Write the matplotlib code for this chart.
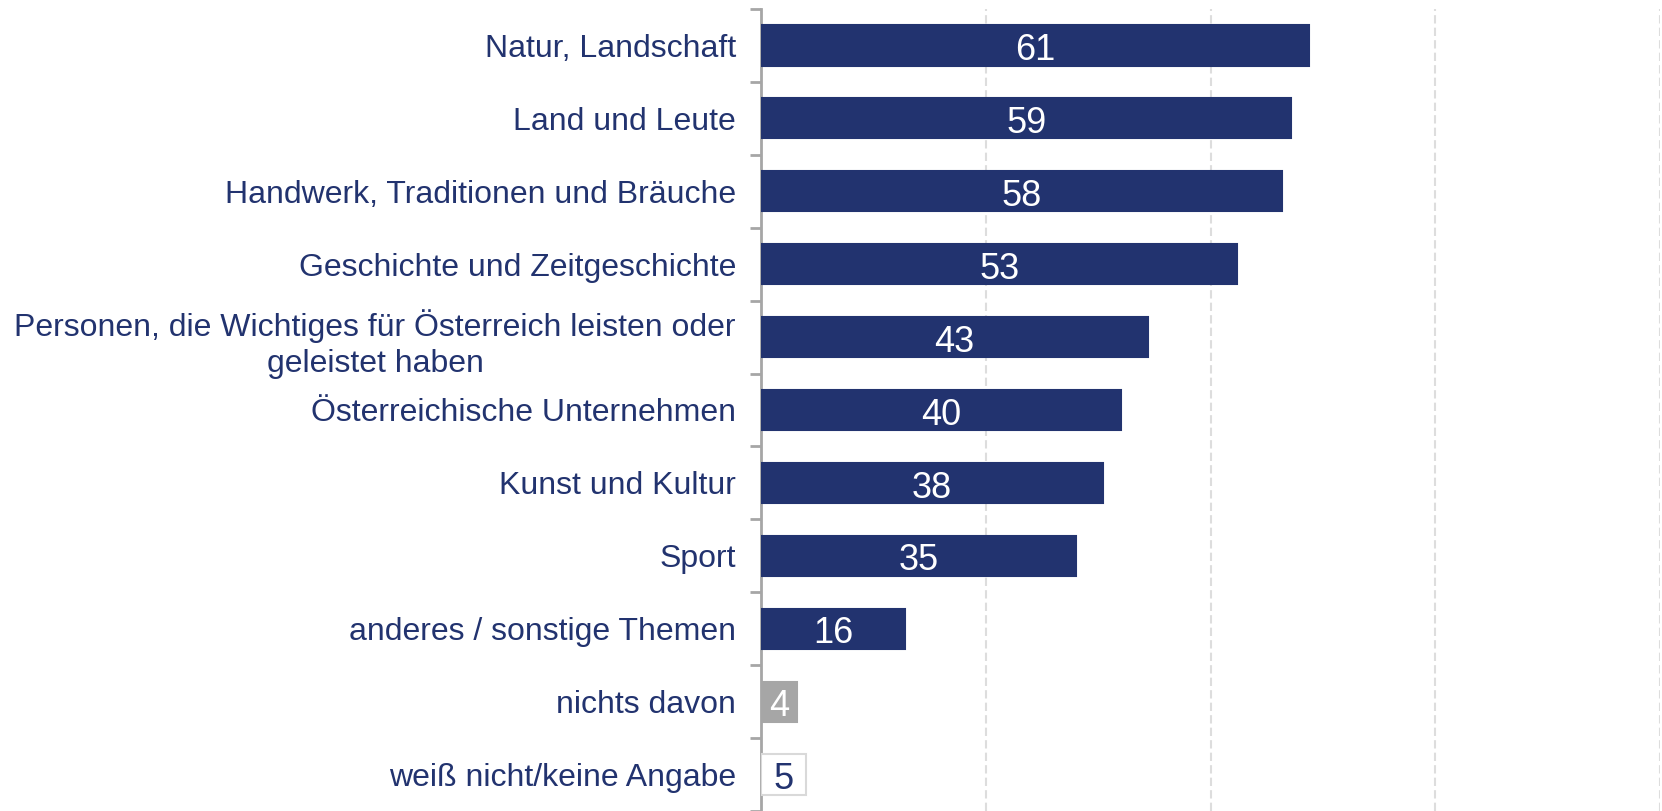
import matplotlib.pyplot as plt
import numpy as np

plt.rcParams['font.family'] = ['Liberation Sans', 'DejaVu Sans']

# data
categories = [
    "Natur, Landschaft",
    "Land und Leute",
    "Handwerk, Traditionen und Bräuche",
    "Geschichte und Zeitgeschichte",
    "Personen, die Wichtiges für Österreich leisten oder\ngeleistet haben",
    "Österreichische Unternehmen",
    "Kunst und Kultur",
    "Sport",
    "anderes / sonstige Themen",
    "nichts davon",
    "weiß nicht/keine Angabe",
]
values = [61, 59, 58, 53, 43, 40, 38, 35, 16, 4, 5]

# styles
navy = "#22336F"
bar_colors = [navy] * 9 + ["#A6A6A6", "white"]
edge_colors = [navy] * 9 + ["#A6A6A6", "#D9D9D9"]
label_colors = ["white"] * 10 + [navy]

fig = plt.figure(figsize=(16.62, 8.11), dpi=100)
ax = fig.add_axes([761 / 1662, 0.0, 899 / 1662, 1 - 9 / 811])

y = np.arange(len(categories))
bars = ax.barh(y, values, height=0.55, color=bar_colors,
               edgecolor=edge_colors, linewidth=1.5, zorder=3)

for b, v, c in zip(bars, values, label_colors):
    ax.text(b.get_x() + b.get_width() / 2, b.get_y() + b.get_height() / 2 + 0.07,
            str(v), ha='center', va='center', color=c, fontsize=26, zorder=4)

ax.set_xlim(0, 100)
ax.set_ylim(len(categories) - 0.5, -0.5)

# gridlines
ax.set_xticks([25, 50, 75, 100])
ax.tick_params(axis='x', length=0, labelbottom=False)
ax.grid(axis='x', color='#DDDDDD', linestyle=(0, (4, 2)), linewidth=1.5, zorder=0)

# y ticks at category boundaries, labels at centres
ax.set_yticks(np.arange(-0.5, len(categories), 1.0))
ax.set_yticklabels([])
ax.tick_params(axis='y', which='major', length=8, width=2, color='#A6A6A6', direction='out')
ax.set_yticks(y, minor=True)
ax.set_yticklabels(categories, minor=True, fontsize=23, color=navy,
                   multialignment='center', linespacing=1.3)
ax.tick_params(axis='y', which='minor', length=0, pad=18)

for s in ['top', 'right', 'bottom']:
    ax.spines[s].set_visible(False)
ax.spines['left'].set_color('#A6A6A6')
ax.spines['left'].set_linewidth(2)

fig.savefig("out.png", dpi=100)
